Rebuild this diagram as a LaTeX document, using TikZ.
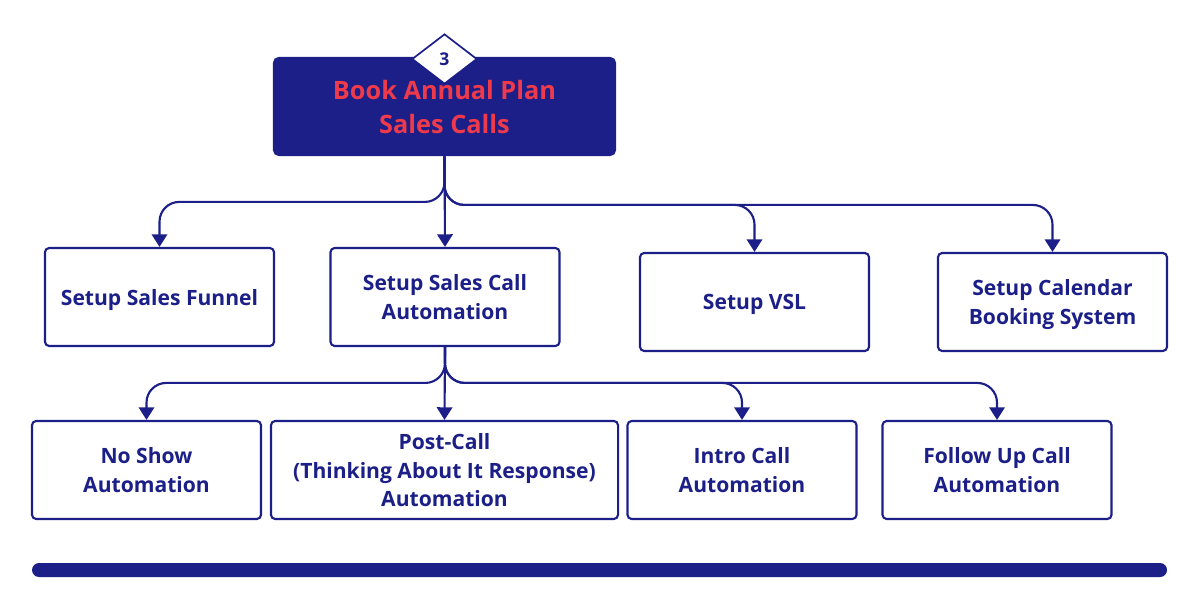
\documentclass[tikz,border=0pt]{standalone}
\usepackage{fontspec}
\setmainfont{Open Sans}[BoldFont={* Bold}]
\usetikzlibrary{shapes.geometric,arrows.meta,calc}
\definecolor{navy}{HTML}{1B1F87}
\definecolor{redt}{HTML}{EE3A4B}
\begin{document}
\begin{tikzpicture}[x=0.025cm,y=-0.025cm,
  box/.style={draw=navy,line width=1.5pt,rounded corners=3pt,fill=white,
    minimum width=5.725cm,minimum height=2.45cm,align=center,inner sep=2pt,text depth=0pt,
    text=navy,font=\fontsize{15}{20.6}\selectfont\bfseries},
  topbox/.style={fill=navy,rounded corners=4pt,minimum width=8.575cm,minimum height=2.475cm,
    align=center,text=redt,text depth=0pt,font=\fontsize{18}{24.2}\selectfont\bfseries},
  tag/.style={shape=diamond,draw=navy,line width=1.2pt,fill=white,inner sep=0pt,
    minimum width=1.625cm,minimum height=1.25cm,text=navy,font=\fontsize{12.5}{14}\selectfont\bfseries},
  link/.style={draw=navy,line width=1.5pt,rounded corners=14pt,-{Triangle[width=11pt,length=9pt]}},
  bar/.style={fill=navy,rounded corners=5pt}]
\useasboundingbox (0,0) rectangle (1200,610);

\node[topbox] (top) at (444.5,106.5) {Book Annual Plan\\Sales Calls};
\node[tag] (tagd) at (444.5,59) {3};

\node[box] (b1) at (159.5,297) {Setup Sales Funnel};
\node[box] (b2) at (445,297) {Setup Sales Call\\Automation};
\node[box] (b3) at (754.5,302) {Setup VSL};
\node[box] (b4) at (1052.5,302) {Setup Calendar\\Booking System};

\node[box] (c1) at (146.5,470) {No Show\\Automation};
\node[box,minimum width=8.675cm] (c2) at (444.5,470) {Post-Call\\(Thinking About It Response)\\Automation};
\node[box] (c3) at (742,470) {Intro Call\\Automation};
\node[box] (c4) at (997,470) {Follow Up Call\\Automation};

\path[bar] (32,563) rectangle (1167,577);

% level 1 connectors
\draw[link] (top.south) -- (b2.north);
\draw[link] (top.south) |- ($(b1.north)+(0,-45)$) -- (b1.north);
\draw[link] (top.south) |- ($(b3.north)+(0,-47)$) -- (b3.north);
\draw[link] (top.south) |- ($(b4.north)+(0,-47)$) -- (b4.north);

% level 2 connectors
\draw[link] (b2.south) -- (c2.north);
\draw[link] (b2.south) |- ($(c1.north)+(0,-37)$) -- (c1.north);
\draw[link] (b2.south) |- ($(c3.north)+(0,-37)$) -- (c3.north);
\draw[link] (b2.south) |- ($(c4.north)+(0,-37)$) -- (c4.north);
\end{tikzpicture}
\end{document}
